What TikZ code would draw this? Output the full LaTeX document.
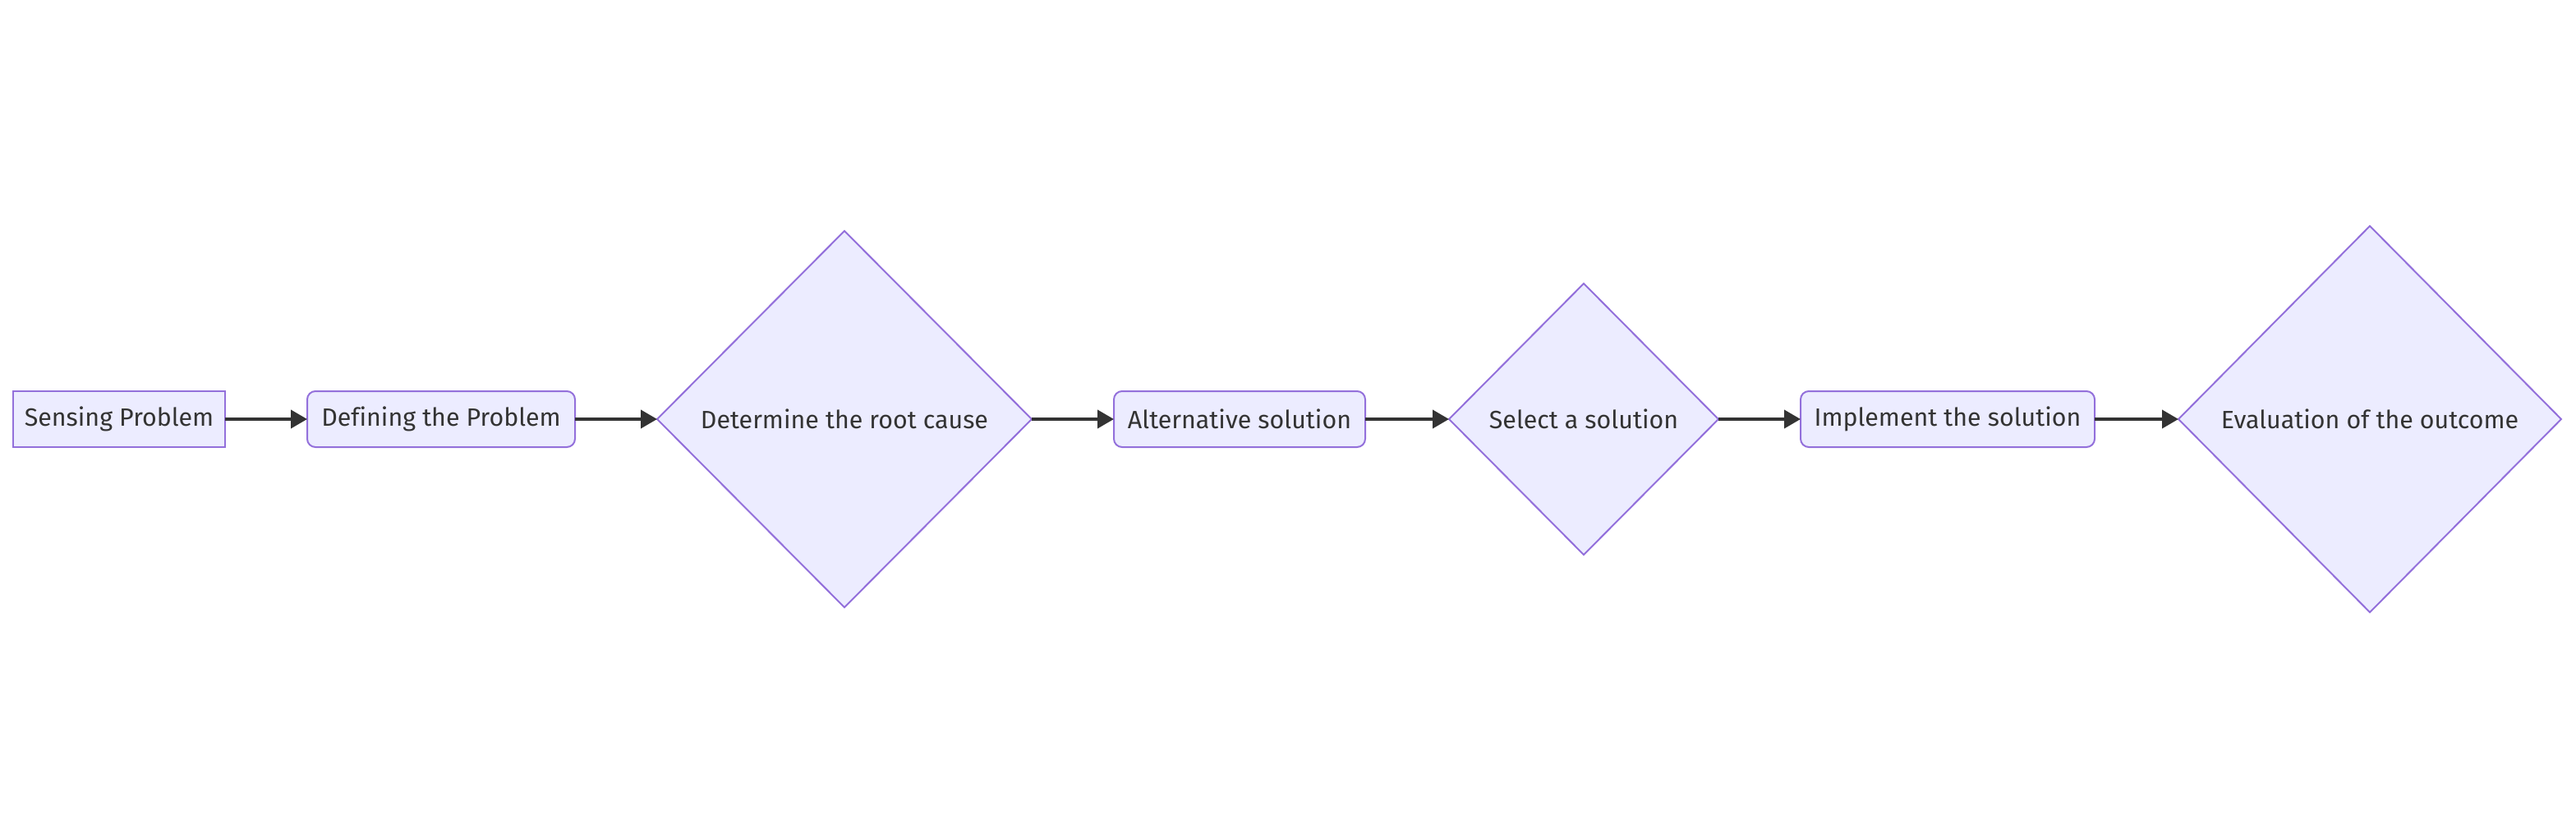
\documentclass[tikz,border=0pt]{standalone}
\usepackage{fontspec}
\setmainfont[Ligatures={NoCommon}]{Fira Sans}
\usetikzlibrary{shapes.geometric,arrows.meta}
\definecolor{nodefill}{HTML}{ECECFF}
\definecolor{nodeline}{HTML}{9370DB}
\definecolor{ink}{HTML}{333333}
\begin{document}
\begin{tikzpicture}[x=1pt,y=-1pt,
  base/.style={fill=nodefill,draw=nodeline,line width=1pt,text=ink,font=\fontsize{15.2}{18}\selectfont,inner sep=0pt,outer sep=0pt},
  sqbox/.style={base,rectangle,minimum height=34pt},
  rbox/.style={base,rectangle,rounded corners=5pt,minimum height=34pt},
  dia/.style={base,diamond,aspect=1},
  conn/.style={draw=ink,line width=2pt,-{Triangle[length=10pt,width=11pt]}}
]
\useasboundingbox (0,0) rectangle (1568,508);
\node[sqbox,minimum width=129pt] (a) at (72.5,255) {Sensing Problem};
\node[rbox,minimum width=163pt] (b) at (268.5,255) {Defining the Problem};
\node[dia,minimum width=228pt,minimum height=229pt] (c) at (514,255) {Determine the root cause};
\node[rbox,minimum width=153pt] (d) at (754.5,255) {Alternative solution};
\node[dia,minimum width=164pt,minimum height=165pt] (e) at (964,255) {Select a solution};
\node[rbox,minimum width=179pt] (f) at (1185.5,255) {Implement the solution};
\node[dia,minimum width=233pt,minimum height=235pt] (g) at (1442.5,255) {Evaluation of the outcome};
\draw[conn] (a.east) -- (b.west);
\draw[conn] (b.east) -- (c.west);
\draw[conn] (c.east) -- (d.west);
\draw[conn] (d.east) -- (e.west);
\draw[conn] (e.east) -- (f.west);
\draw[conn] (f.east) -- (g.west);
\end{tikzpicture}
\end{document}
